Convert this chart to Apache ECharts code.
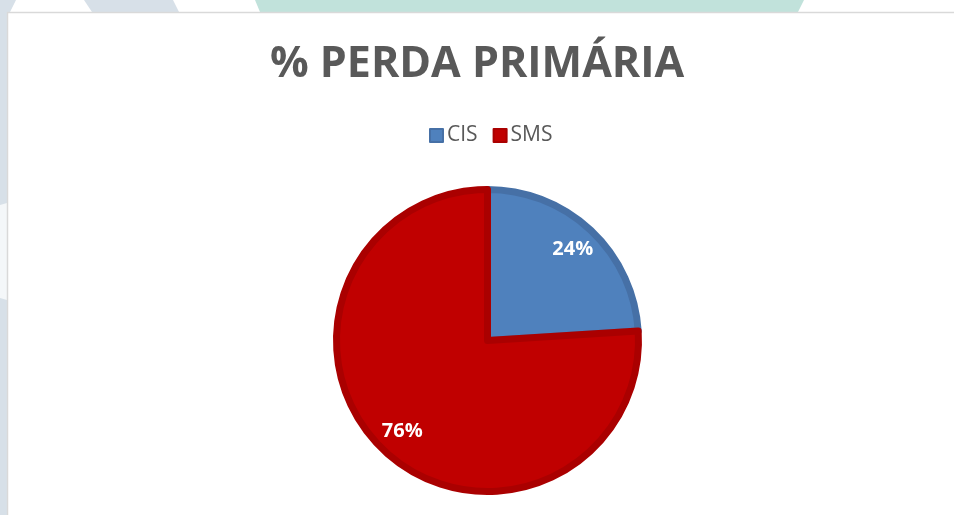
<!DOCTYPE html>
<html>
<head>
<meta charset="utf-8">
<script src="https://cdn.jsdelivr.net/npm/echarts@6/dist/echarts.min.js"></script>
<style>
html,body{margin:0;padding:0;background:#fff;}
#c{width:954px;height:515px;}
</style>
</head>
<body>
<div id="c"></div>
<script>
const categories = ['CIS', 'SMS'];
const values = [24, 76];
const colors = ['#4f81bd', '#c00000'];
const borders = ['#4670a6', '#aa0000'];

const chart = echarts.init(document.getElementById('c'), null, {renderer: 'canvas'});
const data = categories.map((n, i) => ({
  name: n, value: values[i],
  itemStyle: {color: colors[i], borderColor: borders[i], borderWidth: 7}
}));
const labelData = categories.map((n, i) => ({name: n, value: values[i]}));

const font = '"Open Sans", "Noto Sans", sans-serif';
chart.setOption({
  animation: false,
  backgroundColor: '#ffffff',
  graphic: [
    {type: 'polygon', z: -10, shape: {points: [[0,0],[16,0],[10,12],[7,515],[0,515]]}, style: {fill: '#d7e0e8'}},
    {type: 'polygon', z: -10, shape: {points: [[84,0],[173,0],[179,12],[92,12]]}, style: {fill: '#d7e0e8'}},
    {type: 'polygon', z: -10, shape: {points: [[255,0],[804,0],[798,12],[260,12]]}, style: {fill: '#c1e2db'}},
    {type: 'polygon', z: -9, shape: {points: [[0,205],[7,203],[7,300],[0,298]]}, style: {fill: '#f4f7f9'}},
    {type: 'rect', z: -5, shape: {x: 7.5, y: 12.5, width: 960, height: 520}, style: {fill: '#ffffff', stroke: '#d9d9d9', lineWidth: 1.5}}
  ],
  title: {
    text: '% PERDA PRIMÁRIA',
    left: 'center',
    top: 38,
    textStyle: {fontFamily: font, fontWeight: 'bold', fontSize: 43, color: '#595959'}
  },
  legend: {
    data: categories,
    top: 120,
    left: 424,
    icon: 'rect',
    itemWidth: 13,
    itemHeight: 13,
    itemGap: 15,
    textStyle: {fontFamily: font, fontSize: 21, color: '#595959', padding: [0,0,0,-1]}
  },
  series: [
    {
      type: 'pie',
      center: [487.5, 340.5],
      radius: [0, 151],
      startAngle: 90,
      clockwise: true,
      silent: true,
      label: {show: false},
      labelLine: {show: false},
      data: data
    },
    {
      type: 'pie',
      center: [487.5, 340.5],
      radius: [92, 151],
      startAngle: 90,
      clockwise: true,
      silent: true,
      itemStyle: {color: 'rgba(0,0,0,0)', borderWidth: 0},
      label: {
        show: true, position: 'inside',
        formatter: p => p.value + '%',
        fontFamily: font, fontWeight: 'bold', fontSize: 20, color: '#ffffff'
      },
      labelLine: {show: false},
      data: labelData
    }
  ]
});
</script>
</body>
</html>
